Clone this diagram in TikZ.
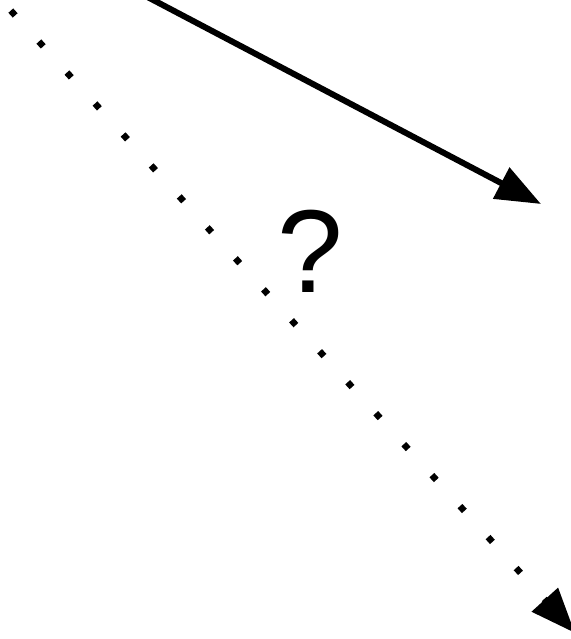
\documentclass[tikz,border=0pt]{standalone}
\usepackage{fontspec}
\setmainfont{Liberation Sans}
\usetikzlibrary{arrows.meta, positioning, calc}

\begin{document}
\begin{tikzpicture}[
      x=1pt, y=-1pt,
      solidarrow/.style={-{Triangle[length=45pt, width=34pt]}, line width=6pt},
      dotarrow/.style={-{Triangle[length=45pt, width=34pt]}, line width=6.5pt, line cap=butt, dash pattern=on 6.5pt off 35.3pt},
      qmark/.style={inner sep=0pt, font=\fontsize{118}{118}\selectfont}
    ]
    \useasboundingbox (0,0) rectangle (570,639);

    \coordinate (known) at (138,-8);
    \coordinate (goal) at (541,204);
    \coordinate (guess) at (10.8,10.6);
    \coordinate (far) at (575,633);
    \node[qmark] (q) at (310,251) {?};

    \draw[solidarrow] (known) -- (goal);
    \draw[dotarrow] (guess) -- (far);
  \end{tikzpicture}
\end{document}
